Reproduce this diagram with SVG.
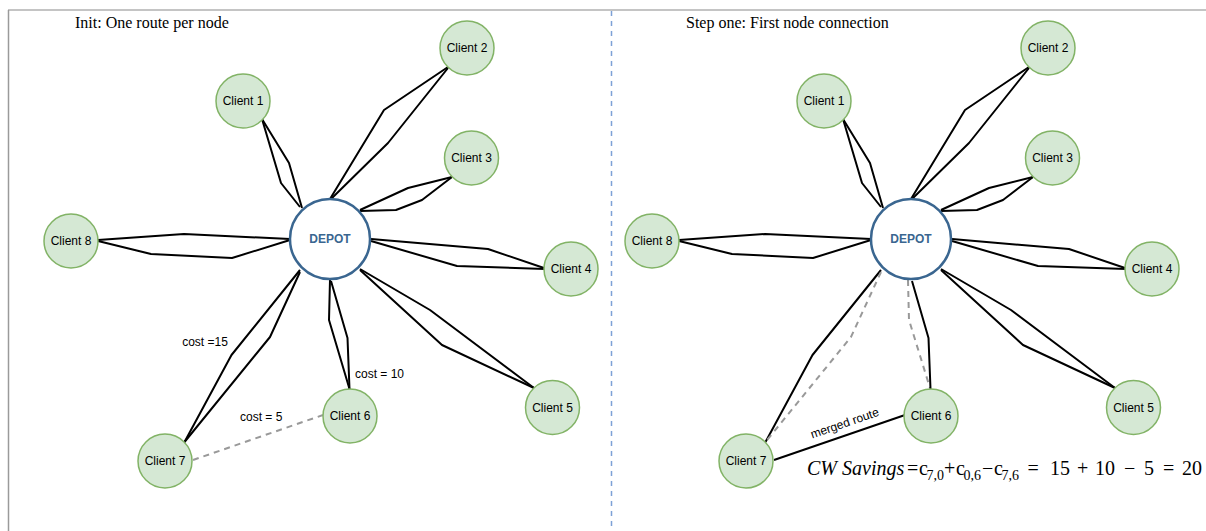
<svg xmlns="http://www.w3.org/2000/svg" width="1206" height="531" viewBox="0 0 1206 531">
<style>
.client{fill:#d5e8d4;stroke:#82b366;stroke-width:1.5}
.depot{fill:#ffffff;stroke:#3a6690;stroke-width:2.5}
.lbl{font-family:"Liberation Sans",Arial,sans-serif;font-size:12px;fill:#000;text-anchor:middle;dominant-baseline:central}
.dlbl{font-family:"Liberation Sans",Arial,sans-serif;font-size:12px;font-weight:bold;fill:#3a6690;text-anchor:middle;dominant-baseline:central}
.route{fill:none;stroke:#000;stroke-width:2;stroke-linejoin:round}
.dash{fill:none;stroke:#999999;stroke-width:2;stroke-dasharray:6 5}
.title{font-family:"Liberation Serif","Times New Roman",serif;font-size:16px;fill:#000}
.elbl{font-family:"Liberation Sans",Arial,sans-serif;font-size:12px;fill:#000}
.sub{font-size:14px}
</style>
<rect x="0" y="0" width="1206" height="531" fill="#ffffff"/>
<g id="frame">
<line x1="8" y1="10" x2="1206" y2="10" stroke="#c4c4c4" stroke-width="2"/>
<line x1="8.5" y1="10" x2="8.5" y2="531" stroke="#9a9a9a" stroke-width="1.5"/>
<line x1="611.5" y1="11" x2="611.5" y2="531" stroke="#7da1d6" stroke-width="1.5" stroke-dasharray="5 5"/>
</g>
<g id="titles">
<text class="title" x="75" y="28">Init: One route per node</text>
<text class="title" x="686" y="28">Step one: First node connection</text>
</g>
<g id="connectors">
<!-- left panel -->
<polyline class="route" points="262,119 289,163 302,208"/>
<polyline class="route" points="262,119 281,183 300,207"/>
<polyline class="route" points="448,67 384,110 330,199"/>
<polyline class="route" points="448,68 388,143 331,199"/>
<polyline class="route" points="452,177 408,188 360,210"/>
<polyline class="route" points="452,177 422,200 396,210 360,211"/>
<polyline class="route" points="98,240 184,234 290,239"/>
<polyline class="route" points="98,241 151,254 232,258 290,240"/>
<polyline class="route" points="371,239 488,249 544,268"/>
<polyline class="route" points="371,241 457,266 545,269"/>
<polyline class="route" points="360,269 430,310 534,388"/>
<polyline class="route" points="360,270 442,345 534,388"/>
<polyline class="route" points="330,280 329,320 349.5,389"/>
<polyline class="route" points="331,281 347.5,338 349.5,389"/>
<polyline class="route" points="300,270 231.5,355 184.5,442"/>
<polyline class="route" points="300,272 270,337 184.5,442"/>
<line class="dash" x1="193" y1="460" x2="323" y2="415"/>
<text class="elbl" x="205" y="346" text-anchor="middle">cost =15</text>
<text class="elbl" x="355" y="378">cost = 10</text>
<text class="elbl" x="240" y="421">cost = 5</text>
<!-- right panel -->
<g transform="translate(581,0)">
<polyline class="route" points="262,119 289,163 302,208"/>
<polyline class="route" points="262,119 281,183 300,207"/>
<polyline class="route" points="448,67 384,110 330,199"/>
<polyline class="route" points="448,68 388,143 331,199"/>
<polyline class="route" points="452,177 408,188 360,210"/>
<polyline class="route" points="452,177 422,200 396,210 360,211"/>
<polyline class="route" points="98,240 184,234 290,239"/>
<polyline class="route" points="98,241 151,254 232,258 290,240"/>
<polyline class="route" points="371,239 488,249 544,268"/>
<polyline class="route" points="371,241 457,266 545,269"/>
<polyline class="route" points="360,269 430,310 534,388"/>
<polyline class="route" points="360,270 442,345 534,388"/>
<polyline class="dash" points="327,280 328,320 349,388"/>
<polyline class="route" points="331,281 347.5,338 349.5,389"/>
<polyline class="route" points="300,270 231.5,355 184.5,442"/>
<polyline class="dash" points="300,272 270,337 184.5,442"/>
<line class="route" x1="193" y1="460" x2="324" y2="415"/>
</g>
<text class="elbl" x="0" y="0" text-anchor="middle" font-size="14" transform="translate(846,427) rotate(-19)">merged route</text>
</g>
<g id="depot-left"><circle class="depot" cx="330" cy="239" r="40"/><text class="dlbl" x="330" y="239">DEPOT</text></g>
<g id="client1-left"><circle class="client" cx="243" cy="101" r="27"/><text class="lbl" x="243" y="101">Client 1</text></g>
<g id="client2-left"><circle class="client" cx="467" cy="48" r="27"/><text class="lbl" x="467" y="48">Client 2</text></g>
<g id="client3-left"><circle class="client" cx="471.5" cy="158" r="27"/><text class="lbl" x="471.5" y="158">Client 3</text></g>
<g id="client4-left"><circle class="client" cx="571" cy="269" r="27"/><text class="lbl" x="571" y="269">Client 4</text></g>
<g id="client5-left"><circle class="client" cx="552.5" cy="407.5" r="27"/><text class="lbl" x="552.5" y="407.5">Client 5</text></g>
<g id="client6-left"><circle class="client" cx="350" cy="416" r="27"/><text class="lbl" x="350" y="416">Client 6</text></g>
<g id="client7-left"><circle class="client" cx="165" cy="461" r="27"/><text class="lbl" x="165" y="461">Client 7</text></g>
<g id="client8-left"><circle class="client" cx="71" cy="241" r="27"/><text class="lbl" x="71" y="241">Client 8</text></g>
<g id="depot-right"><circle class="depot" cx="911" cy="239" r="40"/><text class="dlbl" x="911" y="239">DEPOT</text></g>
<g id="client1-right"><circle class="client" cx="824" cy="101" r="27"/><text class="lbl" x="824" y="101">Client 1</text></g>
<g id="client2-right"><circle class="client" cx="1048" cy="48" r="27"/><text class="lbl" x="1048" y="48">Client 2</text></g>
<g id="client3-right"><circle class="client" cx="1052.5" cy="158" r="27"/><text class="lbl" x="1052.5" y="158">Client 3</text></g>
<g id="client4-right"><circle class="client" cx="1152" cy="269" r="27"/><text class="lbl" x="1152" y="269">Client 4</text></g>
<g id="client5-right"><circle class="client" cx="1133.5" cy="407.5" r="27"/><text class="lbl" x="1133.5" y="407.5">Client 5</text></g>
<g id="client6-right"><circle class="client" cx="931" cy="416" r="27"/><text class="lbl" x="931" y="416">Client 6</text></g>
<g id="client7-right"><circle class="client" cx="746" cy="461" r="27"/><text class="lbl" x="746" y="461">Client 7</text></g>
<g id="client8-right"><circle class="client" cx="652" cy="241" r="27"/><text class="lbl" x="652" y="241">Client 8</text></g>
<g id="formula">
<text y="475" font-family="'Liberation Serif','Times New Roman',serif" font-size="20" fill="#000"><tspan x="807" font-style="italic">CW Savings</tspan><tspan x="907">=</tspan><tspan x="919">c</tspan><tspan class="sub" x="926.5" dy="5">7,0</tspan><tspan x="944" dy="-5">+</tspan><tspan x="956">c</tspan><tspan class="sub" x="963.5" dy="5">0,6</tspan><tspan x="982" dy="-5">−</tspan><tspan x="994">c</tspan><tspan class="sub" x="1001.5" dy="5">7,6</tspan><tspan x="1027.5" dy="-5">=</tspan><tspan x="1050">15</tspan><tspan x="1077">+</tspan><tspan x="1095">10</tspan><tspan x="1124">−</tspan><tspan x="1144">5</tspan><tspan x="1163">=</tspan><tspan x="1182">20</tspan></text>
</g>
</svg>
